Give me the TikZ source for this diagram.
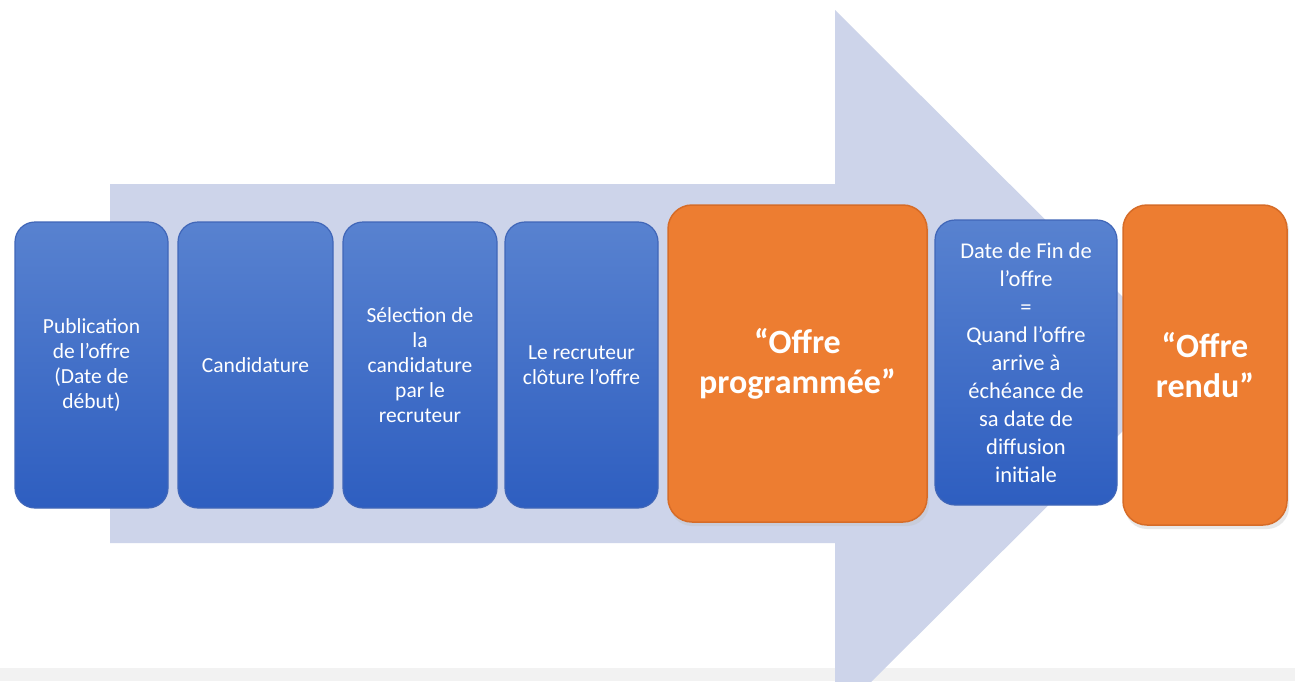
\documentclass[tikz,border=0pt]{standalone}
\usepackage{fontspec}
\setmainfont{Carlito}
\definecolor{arrowfill}{RGB}{205,212,234}
\definecolor{bluetop}{RGB}{88,130,208}
\definecolor{bluebot}{RGB}{46,94,192}
\definecolor{blueedge}{RGB}{64,102,184}
\definecolor{orangefill}{RGB}{237,125,49}
\definecolor{orangeedge}{RGB}{214,108,40}
\definecolor{stripgray}{RGB}{242,242,242}
\tikzset{
  bluebox/.style={rounded corners=20pt, top color=bluetop, bottom color=bluebot,
    draw=blueedge, line width=1.2pt, text=white, align=center,
    font=\fontsize{21.5}{25}\selectfont, inner sep=2pt},
  orangebox/.style={rounded corners=24pt, fill=orangefill, draw=orangeedge,
    line width=1.5pt, text=white, align=center,
    font=\bfseries\fontsize{34}{40}\selectfont, inner sep=2pt},
  shadowbox/.style={rounded corners=22pt, fill=black!25, draw=none},
}
\begin{document}
\begin{tikzpicture}[x=1pt,y=-1pt]
\useasboundingbox (0,0) rectangle (1295,681);
\fill[white] (0,0) rectangle (1295,681);
\fill[stripgray] (0,668) rectangle (1295,681);
\begin{scope}
\clip (0,0) rectangle (1295,681);
\fill[arrowfill] (110,184) -- (835,184) -- (835,10) -- (1190,364) -- (835,718) -- (835,543) -- (110,543) -- cycle;
\end{scope}
% shadows
\fill[shadowbox, opacity=0.35] (670,209) rectangle (929,526);
\fill[shadowbox, opacity=0.35] (1125,209) rectangle (1289,529);
% boxes
\node[bluebox, minimum width=153pt, minimum height=286pt] (n1) at (91.5,365)
  {Publication\\de l’offre\\(Date de\\début)};
\node[bluebox, minimum width=155pt, minimum height=286pt] (n2) at (255.5,365)
  {Candidature};
\node[bluebox, minimum width=154pt, minimum height=286pt] (n3) at (420,365)
  {Sélection de\\la\\candidature\\par le\\recruteur};
\node[bluebox, minimum width=153pt, minimum height=286pt] (n4) at (581.5,365)
  {Le recruteur\\clôture l’offre};
\node[orangebox, minimum width=259pt, minimum height=317pt] (n5) at (797.5,363.5)
  {“Offre\\programmée”};
\node[bluebox, minimum width=182pt, minimum height=285pt,
  font=\fontsize{22.5}{28}\selectfont] (n6) at (1026,362.5)
  {Date de Fin de\\l’offre\\=\\Quand l’offre\\arrive à\\échéance de\\sa date de\\diffusion\\initiale};
\node[orangebox, minimum width=164pt, minimum height=320pt] (n7) at (1205,365)
  {“Offre\\rendu”};
\end{tikzpicture}
\end{document}
